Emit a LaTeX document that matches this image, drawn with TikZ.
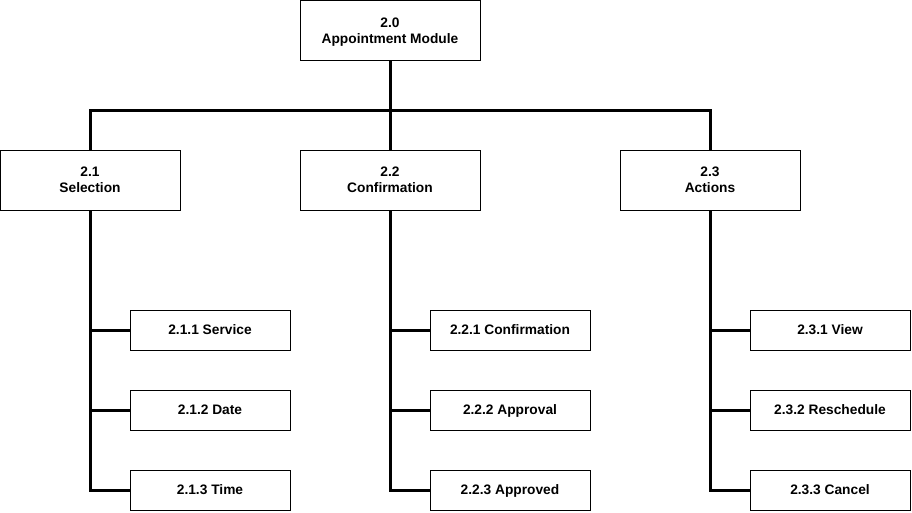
\documentclass[tikz,border=0pt]{standalone}
\usepackage{fontspec}
\setmainfont{Liberation Sans}
\begin{document}
\begin{tikzpicture}[x=1pt,y=-1pt,
  box/.style={draw=black,line width=1pt,fill=white,inner sep=0pt,align=center,
    font=\fontsize{13.75}{15.7}\selectfont\bfseries},
  bigbox/.style={box,minimum width=180pt,minimum height=60pt},
  smallbox/.style={box,minimum width=160pt,minimum height=40pt,text height=9.85pt,text depth=0pt},
  link/.style={draw=black,line width=3pt,line join=miter}]
\useasboundingbox (0,0) rectangle (912,512);
\node[bigbox] (root) at (390,30.5) {2.0\\\smash{Appointment Module}};
\node[bigbox] (s21) at (90,180) {2.1\\\smash{Selection}};
\node[bigbox] (s22) at (390,180) {2.2\\\smash{Confirmation}};
\node[bigbox] (s23) at (710,180) {2.3\\\smash{Actions}};
\node[smallbox] (c211) at (210,330) {2.1.1 Service};
\node[smallbox] (c212) at (210,410) {2.1.2 Date};
\node[smallbox] (c213) at (210,490) {2.1.3 Time};
\node[smallbox] (c221) at (510,330) {2.2.1 Confirmation};
\node[smallbox] (c222) at (510,410) {2.2.2 Approval};
\node[smallbox] (c223) at (510,490) {2.2.3 Approved};
\node[smallbox] (c231) at (830,330) {2.3.1 View};
\node[smallbox] (c232) at (830,410) {2.3.2 Reschedule};
\node[smallbox] (c233) at (830,490) {2.3.3 Cancel};
\coordinate (bar) at (390,110);
\draw[link] (root.south) -- (s22.north);
\draw[link] (s21.north) |- (bar) -| (s23.north);
\foreach \p in {21,22,23}{
  \draw[link] (s\p.south) |- (c\p 3.west);
  \draw[link] (s\p.south |- c\p 1.west) -- (c\p 1.west);
  \draw[link] (s\p.south |- c\p 2.west) -- (c\p 2.west);
}
\end{tikzpicture}
\end{document}
